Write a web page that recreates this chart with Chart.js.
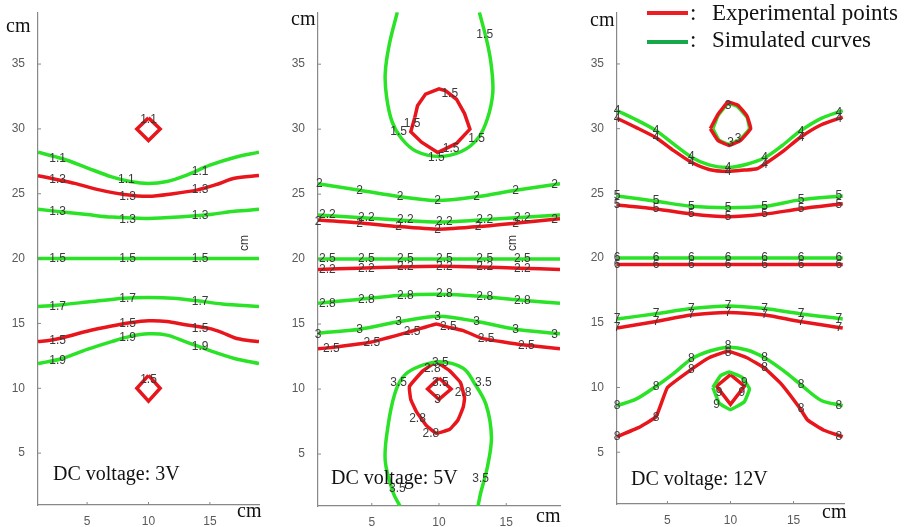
<!DOCTYPE html>
<html>
<head>
<meta charset="utf-8">
<script src="https://cdn.jsdelivr.net/npm/chart.js@4"></script>
<style>
  body { margin: 0; background: #fff; }
  #page { position: relative; width: 904px; height: 527px; overflow: hidden; }
  .panel { position: absolute; top: 0; height: 527px; }
  .serif { position: absolute; font-family: "Liberation Serif", "Times New Roman", serif; color: #111; line-height: 1; white-space: nowrap; }
  .rot { position: absolute; font-family: "Liberation Sans", Arial, sans-serif; font-size: 12px; color: #333; transform: rotate(-90deg); line-height: 1; }
  .swatch { position: absolute; left: 647px; width: 41px; height: 4px; }
</style>
</head>
<body>
<div id="page">
  <div class="panel" style="left:0;width:290px"><canvas id="c3v" width="290" height="527"></canvas></div>
  <div class="panel" style="left:280px;width:310px"><canvas id="c5v" width="310" height="527"></canvas></div>
  <div class="panel" style="left:580px;width:324px"><canvas id="c12v" width="324" height="527"></canvas></div>

  <div class="serif" style="left:6px;top:15px;font-size:20px">cm</div>
  <div class="serif" style="left:291px;top:8px;font-size:20px">cm</div>
  <div class="serif" style="left:590px;top:9px;font-size:20px">cm</div>
  <div class="serif" style="left:237px;top:500px;font-size:20px">cm</div>
  <div class="serif" style="left:536px;top:505px;font-size:20px">cm</div>
  <div class="serif" style="left:822px;top:501px;font-size:20px">cm</div>
  <div class="serif" style="left:53px;top:463px;font-size:20px">DC voltage: 3V</div>
  <div class="serif" style="left:331px;top:467px;font-size:20px">DC voltage: 5V</div>
  <div class="serif" style="left:631px;top:468px;font-size:20px">DC voltage: 12V</div>
  <div class="rot" style="left:236px;top:237px">cm</div>
  <div class="rot" style="left:504px;top:237px">cm</div>

  <div class="swatch" style="top:11px;background:#ee1c24"></div>
  <div class="swatch" style="top:40px;background:#18a84c"></div>
  <div class="serif" style="left:690px;top:1px;font-size:23px">:</div>
  <div class="serif" style="left:690px;top:28px;font-size:23px">:</div>
  <div class="serif" style="left:712px;top:1px;font-size:23px">Experimental points</div>
  <div class="serif" style="left:712px;top:28px;font-size:23px">Simulated curves</div>
</div>

<script>
const RED = '#e8161c';
const GREEN = '#2ae226';

const xTicks = [5, 10, 15];
const yTicks = [5, 10, 15, 20, 25, 30, 35];

// ---- DC 3V ----
const v3Sim11 = [[1,28.2],[3,27.7],[5,27.0],[7,26.3],[8.5,25.95],[10,25.8],[11.5,25.95],[13,26.4],[15,27.2],[17,27.8],[19,28.2]];
const v3Exp13 = [[1,26.4],[2.5,26.1],[4,25.8],[6,25.3],[8,24.95],[10,24.8],[12,25.0],[14,25.3],[15.5,25.7],[17,26.2],[19,26.4]];
const v3Sim13 = [[1,23.8],[3,23.6],[5,23.4],[7,23.2],[10,23.1],[13,23.25],[15,23.4],[17,23.65],[19,23.8]];
const v3Sim15 = [[1,20],[10,20],[19,20]];
const v3Sim17 = [[1,16.3],[3,16.45],[5,16.65],[8,16.95],[10,17.0],[12,16.95],[14,16.75],[16,16.5],[19,16.3]];
const v3Exp15 = [[1,13.6],[2,13.7],[3,13.9],[5,14.4],[7,14.8],[8.5,15.05],[10,15.2],[11.5,15.15],[13,14.9],[15,14.6],[16,14.3],[17,13.9],[18,13.7],[19,13.6]];
const v3Sim19 = [[1,11.9],[3,12.3],[5,13.0],[7,13.6],[8.5,14.0],[10,14.2],[11.5,14.1],[13,13.6],[15,12.9],[17,12.3],[19,11.9]];
const v3ExpTop = [[10,30.85],[10.95,30],[10,29.1],[9.05,30],[10,30.85]];
const v3ExpBot = [[10,11.0],[10.95,10],[10,9.0],[9.05,10],[10,11.0]];
const v3Labels = [
  ['1.1',2.6,27.7],['1.1',8.2,26.05],['1.1',14.2,26.7],
  ['1.3',2.6,26.05],['1.3',8.3,24.8],['1.3',14.2,25.3],
  ['1.3',2.6,23.6],['1.3',8.3,23.0],['1.3',14.2,23.3],
  ['1.5',2.6,20],['1.5',8.3,20],['1.5',14.2,20],
  ['1.7',2.6,16.3],['1.7',8.3,16.9],['1.7',14.2,16.7],
  ['1.5',2.6,13.7],['1.5',8.3,15.0],['1.5',14.2,14.6],
  ['1.9',2.6,12.1],['1.9',8.3,13.9],['1.9',14.2,13.2],
  ['1.1',10,30.7],['1.5',10,10.65]
];

// ---- DC 5V ----
const v5Sim15 = [[6.9,39],[6.3,36.5],[6.0,34.3],[6.1,32.5],[6.5,30.6],[7.2,29.3],[8.3,28.3],[10.0,27.9],[11.7,28.3],[12.9,29.3],[13.6,30.8],[14.0,32.8],[13.9,34.8],[13.6,36.6],[13.0,39]];
const v5Exp15 = [[8.2,30.9],[7.9,29.8],[8.7,29.0],[9.9,28.2],[11.3,28.9],[12.3,30.0],[11.9,31.2],[11.3,32.3],[10.5,32.95],[10.0,33.1],[9.0,32.7],[8.4,31.8],[8.2,30.9]];
const v5Sim2 = [[1,25.8],[4.1,25.3],[7.1,24.8],[9.9,24.5],[12.8,24.8],[15.7,25.3],[19,25.8]];
const v5Sim22 = [[1,23.4],[4,23.2],[7,23.0],[10,22.85],[13,23.0],[16,23.2],[19,23.4]];
const v5Exp22a = [[1,23.0],[4,22.8],[7,22.5],[10,22.3],[13,22.5],[16,22.8],[19,23.1]];
const v5Sim25 = [[1,20],[10,20],[19,20]];
const v5Exp22b = [[1,19.2],[4,19.3],[7,19.4],[10,19.45],[13,19.4],[16,19.3],[19,19.2]];
const v5Sim28 = [[1,16.6],[4,16.9],[7,17.2],[10,17.3],[13,17.15],[16,16.85],[19,16.6]];
const v5Sim3 = [[1,14.3],[4.1,14.6],[7.1,15.2],[10,15.6],[12.8,15.2],[15.7,14.6],[19,14.25]];
const v5Exp25 = [[1,13.1],[2,13.2],[4.9,13.6],[7.8,14.4],[9.8,15.0],[10.5,14.8],[11.8,14.5],[13.2,13.9],[16.2,13.4],[19,13.1]];
const v5Sim35 = [[7.1,1],[6.6,2.0],[6.0,4.5],[6.2,7.1],[6.7,9.6],[7.3,10.9],[8.2,11.6],[10.0,12.1],[11.8,11.6],[12.6,10.5],[13.5,8.8],[13.9,6.3],[13.6,4.0],[13.1,2.0],[12.9,1]];
const v5Exp28 = [[9.8,12.1],[8.8,11.4],[7.8,10.2],[7.9,9.2],[8.3,8.3],[9.05,7.2],[9.8,6.6],[10.8,6.9],[11.4,7.6],[11.8,8.6],[11.9,9.3],[11.6,10.5],[10.8,11.4],[9.8,12.1]];
const v5Exp3 = [[10,10.85],[10.9,10],[10,9.2],[9.15,10],[10,10.85]];
const v5Labels = [
  ['1.5',7.0,29.8],['1.5',9.8,27.8],['1.5',12.8,29.3],['1.5',13.4,37.3],
  ['1.5',10.8,32.7],['1.5',8.0,30.4],['1.5',10.9,28.5],
  ['2',1.1,25.8],['2',4.1,25.3],['2',7.1,24.8],['2',9.9,24.5],['2',12.8,24.8],['2',15.7,25.3],['2',18.6,25.75],
  ['2.2',1.7,23.4],['2.2',4.6,23.15],['2.2',7.5,23.0],['2.2',10.4,22.85],['2.2',13.4,23.0],['2.2',16.2,23.2],
  ['2',1.0,22.9],['2',4.1,22.75],['2',7.0,22.5],['2',9.9,22.3],['2',12.9,22.5],['2',15.7,22.7],['2',18.6,23.0],
  ['2.5',1.7,20],['2.5',4.6,20],['2.5',7.5,20],['2.5',10.4,20],['2.5',13.4,20],['2.5',16.2,20],
  ['2.2',1.7,19.2],['2.2',4.6,19.3],['2.2',7.5,19.4],['2.2',10.4,19.45],['2.2',13.4,19.4],['2.2',16.2,19.3],
  ['2.8',1.7,16.6],['2.8',4.6,16.9],['2.8',7.5,17.2],['2.8',10.4,17.3],['2.8',13.4,17.1],['2.8',16.2,16.8],
  ['3',1.0,14.2],['3',4.1,14.6],['3',7.0,15.2],['3',9.9,15.6],['3',12.8,15.2],['3',15.7,14.6],['3',18.6,14.2],
  ['2.5',2.0,13.1],['2.5',5.0,13.6],['2.5',8.0,14.4],['2.5',10.7,14.8],['2.5',13.5,13.9],['2.5',16.5,13.3],
  ['3.5',10.1,12.0],['3.5',7.0,10.5],['3.5',13.3,10.5],['3.5',6.9,2.3],['3.5',13.1,3.1],
  ['2.8',9.5,11.6],['2.8',11.8,9.7],['2.8',8.4,7.75],['2.8',9.4,6.6],
  ['3.5',10.1,10.5],['3',9.9,9.2]
];

// ---- DC 12V ----
const v12Sim4 = [[1,31.4],[2.5,30.7],[4.1,29.85],[5.5,28.8],[6.9,27.8],[8.3,27.2],[9.8,27.0],[11.3,27.25],[12.7,27.75],[14.1,28.7],[15.5,29.8],[17.2,30.8],[18.9,31.4]];
const v12Exp4 = [[1,30.8],[2.5,30.1],[4.1,29.3],[5.5,28.3],[6.9,27.4],[8.3,26.85],[9.8,26.7],[11.1,26.8],[12.1,26.9],[12.7,27.25],[14.1,28.2],[15.5,29.3],[17.2,30.3],[18.9,30.9]];
const v12Exp3 = [[8.4,30.0],[9.0,31.1],[9.8,32.05],[10.6,31.8],[11.3,31.0],[11.6,30.0],[10.8,29.1],[9.9,28.7],[9.0,29.1],[8.4,30.0]];
const v12Sim3 = [[8.6,30.0],[9.0,31.0],[9.8,31.95],[10.55,31.7],[11.3,30.9],[11.5,30.0],[10.8,29.2],[9.9,28.8],[9.1,29.1],[8.6,30.0]];
const v12Sim5 = [[1,24.8],[4.1,24.4],[6.9,24.0],[9.8,23.9],[12.7,24.0],[15.5,24.5],[18.9,24.8]];
const v12Exp5 = [[1,24.1],[4.1,23.8],[6.9,23.4],[9.8,23.2],[12.7,23.4],[15.5,23.8],[18.9,24.2]];
const v12Sim6 = [[1,20],[10,20],[18.9,20]];
const v12Exp6 = [[1,19.5],[10,19.5],[18.9,19.5]];
const v12Sim7 = [[1,15.3],[4.1,15.7],[6.9,16.1],[9.8,16.3],[12.7,16.1],[15.5,15.7],[18.9,15.3]];
const v12Exp7 = [[1,14.6],[4.1,15.1],[6.9,15.6],[9.8,15.8],[12.7,15.6],[15.5,15.1],[18.9,14.6]];
const v12Sim8 = [[1,8.6],[2.5,9.1],[4.1,10.1],[5.5,11.1],[6.9,12.2],[8.3,12.8],[9.8,13.1],[11.3,12.9],[12.7,12.3],[14.2,11.3],[15.6,10.2],[17.2,9.0],[18.9,8.6]];
const v12Exp8 = [[1,6.2],[2.7,6.9],[4.1,7.75],[5.0,10.0],[6.9,11.4],[8.3,12.3],[9.8,12.8],[11.3,12.3],[12.7,11.5],[14.0,10.3],[15.5,8.4],[16.1,7.5],[17.4,6.7],[18.9,6.2]];
const v12Sim9 = [[8.6,10.0],[9.2,10.9],[9.9,11.2],[10.9,10.8],[11.5,9.9],[11.1,8.9],[10.0,8.3],[9.1,8.8],[8.6,10.0]];
const v12Exp9 = [[10,11.0],[11.1,10.1],[10,8.7],[8.9,10.1],[10,11.0]];
const v12LabelX = [1.0, 4.1, 6.9, 9.8, 12.7, 15.6, 18.6];
const v12LabelRows = [
  ['4', [31.4,29.85,27.8,27.0,27.75,29.8,31.2]],
  ['4', [30.8,29.3,27.4,26.7,27.25,29.3,30.8]],
  ['5', [24.8,24.4,24.0,23.9,24.0,24.5,24.8]],
  ['5', [24.1,23.8,23.4,23.2,23.4,23.8,24.1]],
  ['6', [20,20,20,20,20,20,20]],
  ['6', [19.5,19.5,19.5,19.5,19.5,19.5,19.5]],
  ['7', [15.3,15.7,16.1,16.3,16.1,15.7,15.3]],
  ['7', [14.6,15.1,15.6,15.8,15.6,15.1,14.6]],
  ['8', [8.6,10.1,12.2,13.2,12.3,10.2,8.6]],
  ['8', [6.2,7.7,11.4,12.7,11.5,8.4,6.2]]
];
const v12Extra = [['3',9.8,31.8],['3',10.0,28.9],['3',10.6,29.2],['9',11.1,10.4],['9',9.1,9.6],['9',10.9,9.6],['9',8.9,8.7]];
const v12Labels = v12LabelRows.flatMap(([t, ys]) => ys.map((y, i) => [t, v12LabelX[i], y])).concat(v12Extra);

function line(pts, color, tension) {
  return {
    data: pts.map(p => ({ x: p[0], y: p[1] })),
    showLine: true,
    borderColor: color,
    borderWidth: 3.5,
    pointRadius: 0,
    tension: tension,
    fill: false
  };
}

function makePanel(id, yAxisWidth, pad, xAxisHeight, datasets, labels) {
  const labelPlugin = {
    id: 'contourLabels',
    afterDatasetsDraw(chart) {
      const { ctx, scales: { x, y }, chartArea } = chart;
      ctx.save();
      // small inward tick marks like the original
      ctx.strokeStyle = '#888';
      ctx.lineWidth = 1;
      x.ticks.forEach(t => {
        const px = x.getPixelForValue(t.value);
        ctx.beginPath(); ctx.moveTo(px, chartArea.bottom); ctx.lineTo(px, chartArea.bottom - 3); ctx.stroke();
      });
      y.ticks.forEach(t => {
        const py = y.getPixelForValue(t.value);
        ctx.beginPath(); ctx.moveTo(chartArea.left, py); ctx.lineTo(chartArea.left + 3, py); ctx.stroke();
      });
      ctx.font = '12px "Liberation Sans", Arial, sans-serif';
      ctx.fillStyle = '#3a3a3a';
      ctx.textAlign = 'center';
      ctx.textBaseline = 'middle';
      labels.forEach(([t, lx, ly]) => {
        ctx.fillText(t, x.getPixelForValue(lx), y.getPixelForValue(ly));
      });
      ctx.restore();
    }
  };

  return new Chart(document.getElementById(id).getContext('2d'), {
    type: 'scatter',
    data: { datasets: datasets },
    options: {
      responsive: false,
      animation: false,
      layout: { padding: pad },
      plugins: { legend: { display: false }, tooltip: { enabled: false } },
      scales: {
        x: {
          type: 'linear', min: 1, max: 19,
          afterBuildTicks: a => { a.ticks = xTicks.map(v => ({ value: v })); },
          afterFit: s => { s.height = xAxisHeight; },
          grid: { display: false },
          border: { display: true, color: '#888', width: 1.2 },
          ticks: { color: '#5a5a5a', padding: 1, font: { size: 12, family: '"Liberation Sans", Arial, sans-serif' } }
        },
        y: {
          type: 'linear', min: 1, max: 39,
          afterBuildTicks: a => { a.ticks = yTicks.map(v => ({ value: v })); },
          afterFit: s => { s.width = yAxisWidth; },
          grid: { display: false },
          border: { display: true, color: '#888', width: 1.2 },
          ticks: { color: '#5a5a5a', padding: 5, font: { size: 12, family: '"Liberation Sans", Arial, sans-serif' } }
        }
      }
    },
    plugins: [labelPlugin]
  });
}

makePanel('c3v', 38, { top: 4, right: 31, left: 0, bottom: 0 }, 22, [
  line(v3Sim11, GREEN, 0.3), line(v3Exp13, RED, 0.3), line(v3Sim13, GREEN, 0.3), line(v3Sim15, GREEN, 0),
  line(v3Sim17, GREEN, 0.3), line(v3Exp15, RED, 0.3), line(v3Sim19, GREEN, 0.3),
  line(v3ExpTop, RED, 0), line(v3ExpBot, RED, 0)
], v3Labels);

makePanel('c5v', 38, { top: 5, right: 30, left: 0, bottom: 0 }, 21, [
  line(v5Sim15, GREEN, 0.35), line(v5Exp15, RED, 0), line(v5Sim2, GREEN, 0.3), line(v5Sim22, GREEN, 0.3),
  line(v5Exp22a, RED, 0.2), line(v5Sim25, GREEN, 0), line(v5Exp22b, RED, 0.2), line(v5Sim28, GREEN, 0.3),
  line(v5Sim3, GREEN, 0.3), line(v5Exp25, RED, 0.1), line(v5Sim35, GREEN, 0.35), line(v5Exp28, RED, 0.1),
  line(v5Exp3, RED, 0)
], v5Labels);

makePanel('c12v', 37, { top: 4, right: 60, left: 0, bottom: 0 }, 23, [
  line(v12Sim4, GREEN, 0.3), line(v12Exp4, RED, 0.2), line(v12Exp3, RED, 0.1), line(v12Sim3, GREEN, 0.1),
  line(v12Sim5, GREEN, 0.3), line(v12Exp5, RED, 0.3), line(v12Sim6, GREEN, 0), line(v12Exp6, RED, 0),
  line(v12Sim7, GREEN, 0.3), line(v12Exp7, RED, 0.3), line(v12Sim8, GREEN, 0.3), line(v12Exp8, RED, 0.1),
  line(v12Sim9, GREEN, 0.1), line(v12Exp9, RED, 0)
], v12Labels);
</script>
</body>
</html>
